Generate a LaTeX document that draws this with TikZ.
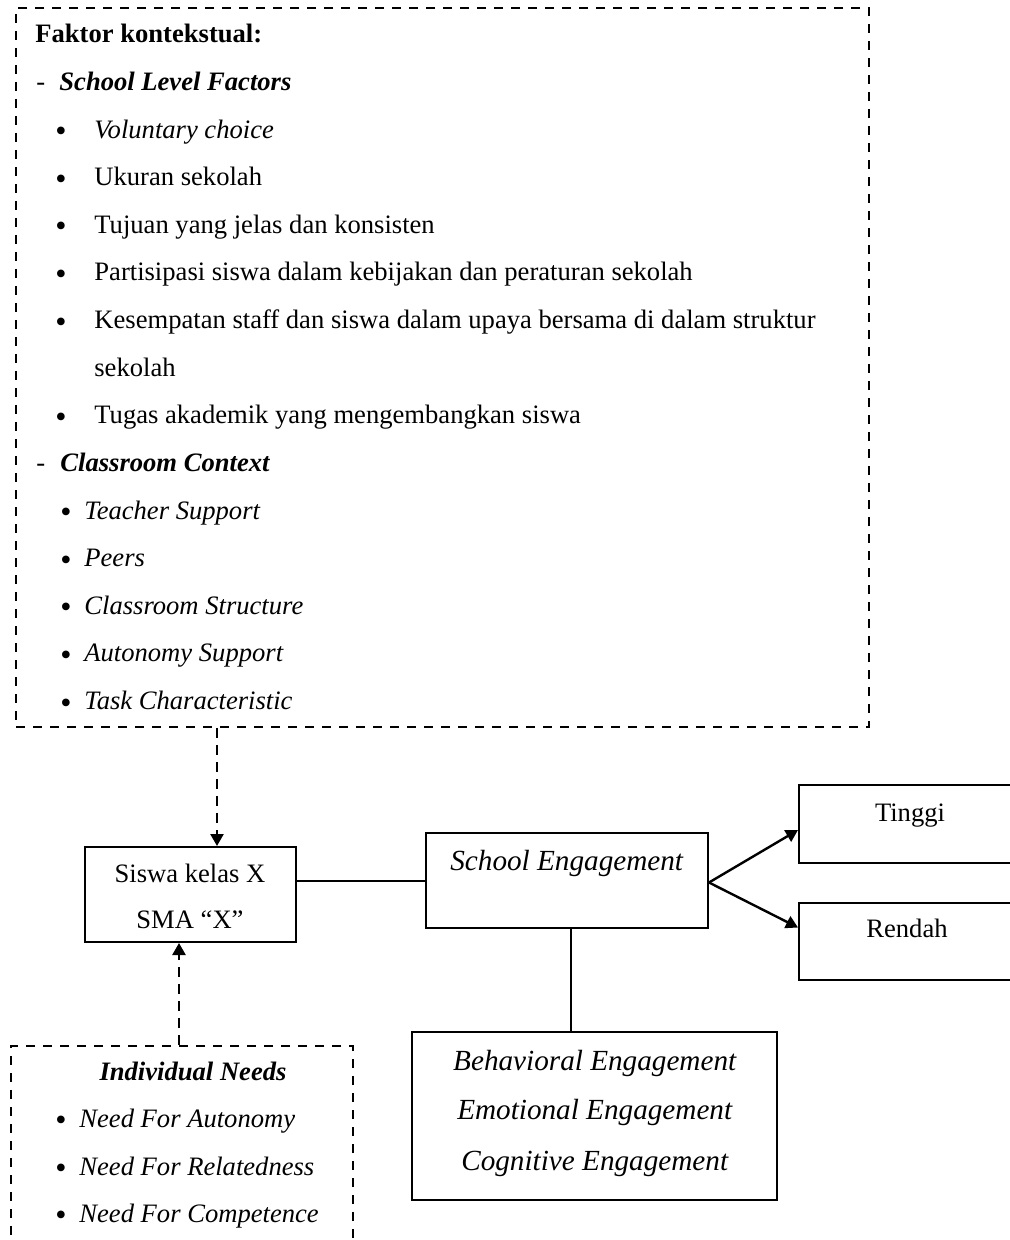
\documentclass[tikz,border=0pt]{standalone}
\usepackage{fontspec}
\setmainfont{Liberation Serif}
\usetikzlibrary{arrows.meta}
\newcommand{\bul}{{\fontsize{16pt}{16pt}\selectfont\raisebox{-1.8pt}{•}}}
\begin{document}
\begin{tikzpicture}[x=0.5pt,y=-0.5pt,
  font=\fontsize{13.3pt}{16pt}\selectfont,
  solidbox/.style={draw, line width=1pt, inner sep=0},
  dashbox/.style={draw, line width=0.85pt, dash pattern=on 4.5pt off 4pt, inner sep=0},
  dasharrow/.style={line width=1.2pt, dash pattern=on 5pt off 3.5pt, -{Triangle[length=6pt,width=6.5pt]}},
  solidarrow/.style={line width=1.2pt, -{Triangle[length=6pt,width=6.5pt]}},
  link/.style={line width=1pt},
  lt/.style={inner sep=0, anchor=base west},
  ct/.style={inner sep=0, anchor=base},
  bigt/.style={ct, font=\fontsize{14.6pt}{17pt}\selectfont}]
\useasboundingbox (0,0) rectangle (1010,1240);
\begin{scope}
\clip (0,0) rectangle (1010,1240);

% boxes
\node[dashbox, minimum width=426.5pt, minimum height=359.5pt] (ctx) at (442.5,367.5) {};
\node[solidbox, minimum width=105.5pt, minimum height=47.5pt] (siswa) at (190.5,894.5) {};
\node[solidbox, minimum width=141pt, minimum height=47.5pt] (se) at (567,880.5) {};
\node[solidbox, minimum width=111pt, minimum height=39pt] (tinggi) at (910,824) {};
\node[solidbox, minimum width=111pt, minimum height=38.5pt] (rendah) at (910,941.5) {};
\node[solidbox, minimum width=182.5pt, minimum height=84pt] (beh) at (594.5,1116) {};
\node[dashbox, minimum width=171pt, minimum height=112pt] (ind) at (182,1158) {};

% context text
\node[lt] (t0) at (35,43) {\textbf{Faktor kontekstual:}};
\node[lt] (d1) at (36,90.6) {-};
\node[lt] (t1) at (59,90.6) {\textbf{\textit{School Level Factors}}};
\node[ct] (b2) at (61,138.2) {\bul};
\node[lt] (t2) at (94,138.2) {\textit{Voluntary choice}};
\node[ct] (b3) at (61,185.8) {\bul};
\node[lt] (t3) at (94,185.8) {Ukuran sekolah};
\node[ct] (b4) at (61,233.4) {\bul};
\node[lt] (t4) at (94,233.4) {Tujuan yang jelas dan konsisten};
\node[ct] (b5) at (61,281) {\bul};
\node[lt] (t5) at (94,281) {Partisipasi siswa dalam kebijakan dan peraturan sekolah};
\node[ct] (b6) at (61,328.6) {\bul};
\node[lt] (t6) at (94,328.6) {Kesempatan staff dan siswa dalam upaya bersama di dalam struktur};
\node[lt] (t7) at (94,376.2) {sekolah};
\node[ct] (b8) at (61,423.8) {\bul};
\node[lt] (t8) at (94,423.8) {Tugas akademik yang mengembangkan siswa};
\node[lt] (d9) at (36,471.4) {-};
\node[lt] (t9) at (60,471.4) {\textbf{\textit{Classroom Context}}};
\node[ct] (b10) at (66,519) {\bul};
\node[lt] (t10) at (84,519) {\textit{Teacher Support}};
\node[ct] (b11) at (66,566.6) {\bul};
\node[lt] (t11) at (84,566.6) {\textit{Peers}};
\node[ct] (b12) at (66,614.2) {\bul};
\node[lt] (t12) at (84,614.2) {\textit{Classroom Structure}};
\node[ct] (b13) at (66,661.8) {\bul};
\node[lt] (t13) at (84,661.8) {\textit{Autonomy Support}};
\node[ct] (b14) at (66,709.4) {\bul};
\node[lt] (t14) at (84,709.4) {\textit{Task Characteristic}};

% other texts
\node[ct] (s1) at (190,882) {Siswa kelas X};
\node[ct] (s2) at (190,928) {SMA “X”};
\node[bigt] (se1) at (567,870) {\textit{School Engagement}};
\node[ct] (ti) at (910,821) {Tinggi};
\node[ct] (re) at (907,937) {Rendah};
\node[bigt] (e1) at (595,1070) {\textit{Behavioral Engagement}};
\node[bigt] (e2) at (595,1119) {\textit{Emotional Engagement}};
\node[bigt] (e3) at (595,1170) {\textit{Cognitive Engagement}};
\node[ct] (in0) at (193,1080) {\textbf{\textit{Individual Needs}}};
\node[ct] (ib1) at (61,1127) {\bul};
\node[lt] (in1) at (79,1127) {\textit{Need For Autonomy}};
\node[ct] (ib2) at (61,1175) {\bul};
\node[lt] (in2) at (79,1175) {\textit{Need For Relatedness}};
\node[ct] (ib3) at (61,1222) {\bul};
\node[lt] (in3) at (79,1222) {\textit{Need For Competence}};

% connectors
\coordinate (c1) at (217,0);
\coordinate (c2) at (179,0);
\coordinate (c3) at (571,0);
\draw[dasharrow] (c1 |- ctx.south) -- (c1 |- siswa.north);
\draw[dasharrow] (c2 |- ind.north) -- (c2 |- siswa.south);
\draw[link] (se.west) -- (se.west -| siswa.east);
\draw[link] (c3 |- se.south) -- (c3 |- beh.north);
\draw[solidarrow] ([yshift=-1pt]se.east) -- ([yshift=-3pt]tinggi.west);
\draw[solidarrow] ([yshift=-1pt]se.east) -- ([yshift=7pt]rendah.west);
\end{scope}
\end{tikzpicture}
\end{document}
